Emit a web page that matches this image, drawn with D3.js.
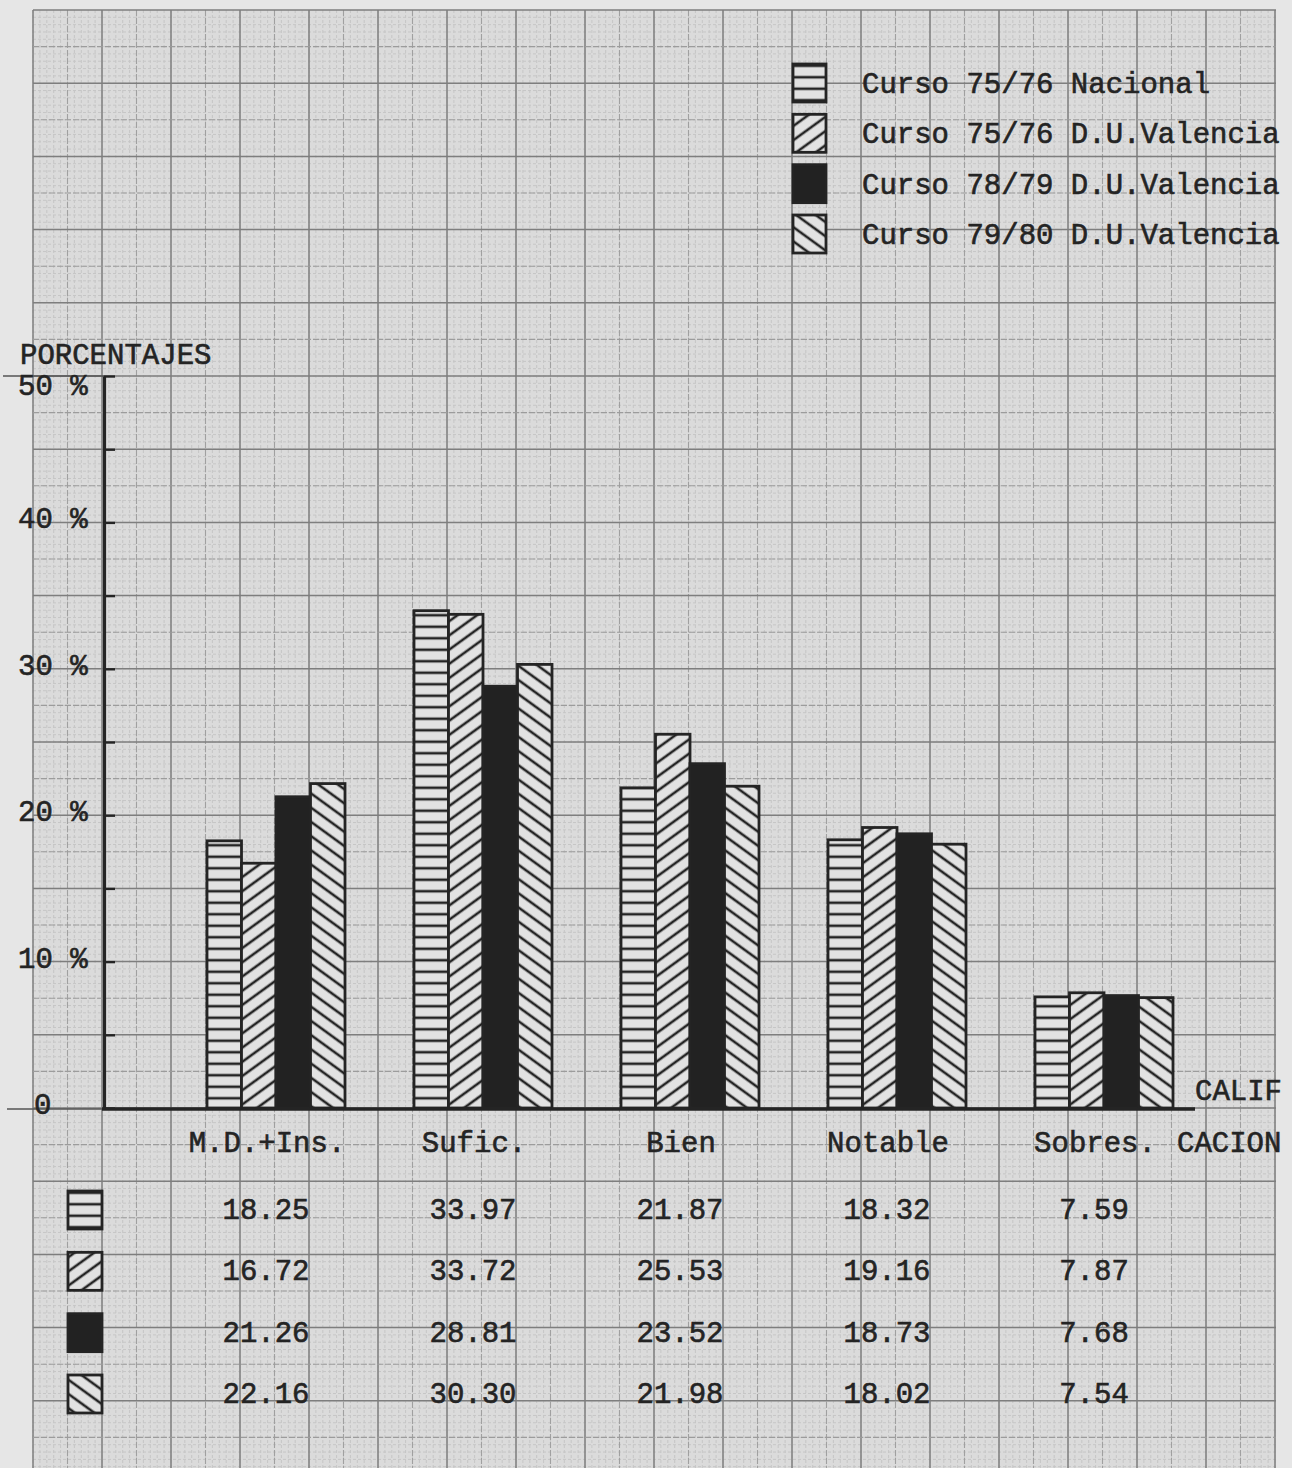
<!DOCTYPE html>
<html>
<head>
<meta charset="utf-8">
<script src="https://cdn.jsdelivr.net/npm/d3@7"></script>
<style>
body { margin: 0; background: #e6e6e6; }
svg { display: block; }
text { font-family: "Liberation Mono", "DejaVu Sans Mono", monospace; font-size: 29px; fill: #242424; stroke: #242424; stroke-width: 0.6px; }
</style>
</head>
<body>
<svg id="chart"></svg>
<script>
// calificaciones (grades) and the four school years
var categories = ["M.D.+Ins.", "Sufic.", "Bien", "Notable", "Sobres."];
var seriesNames = ["Curso 75/76 Nacional", "Curso 75/76 D.U.Valencia", "Curso 78/79 D.U.Valencia", "Curso 79/80 D.U.Valencia"];
var nacional7576 = [18.25, 33.97, 21.87, 18.32, 7.59];
var valencia7576 = [16.72, 33.72, 25.53, 19.16, 7.87];
var valencia7879 = [21.26, 28.81, 23.52, 18.73, 7.68];
var valencia7980 = [22.16, 30.30, 21.98, 18.02, 7.54];
var yTickValues = [0, 10, 20, 30, 40, 50];
var yTickLabels = ["0", "10 %", "20 %", "30 %", "40 %", "50 %"];

var seriesValues = [nacional7576, valencia7576, valencia7879, valencia7980];

var width = 1292, height = 1468;
var paper = { left: 33, right: 1276, top: 10, bottom: 1468 };
var cellW = 34.5, cellH = 36.6;
var ink = "#242424";

var svg = d3.select("#chart")
  .attr("width", width)
  .attr("height", height);

var y = d3.scaleLinear()
  .domain([0, 50])
  .range([1108, 1108 - cellH * 20]);

var x = d3.scaleBand()
  .domain(categories)
  .range([172.5, 1207.5])
  .paddingInner(1 / 3)
  .paddingOuter(1 / 6);

var xs = d3.scaleBand()
  .domain(seriesNames)
  .range([0, x.bandwidth()]);

// ---- graph paper ----
svg.append("rect")
  .attr("x", paper.left)
  .attr("y", paper.top)
  .attr("width", paper.right - paper.left)
  .attr("height", paper.bottom - paper.top)
  .attr("fill", "#dbdbdb");

var grid = svg.append("g");
var fineX = d3.range(paper.left, paper.right, cellW / 5);
var fineY = d3.range(y(0), paper.top, -cellH / 5).concat(d3.range(y(0), paper.bottom, cellH / 5));
grid.selectAll(".fv").data(fineX).enter().append("line")
  .attr("x1", d => d).attr("x2", d => d)
  .attr("y1", paper.top).attr("y2", paper.bottom)
  .attr("stroke", "#c6c6c6").attr("stroke-dasharray", "3,2");
grid.selectAll(".fh").data(fineY).enter().append("line")
  .attr("x1", paper.left).attr("x2", paper.right)
  .attr("y1", d => d).attr("y2", d => d)
  .attr("stroke", "#c6c6c6").attr("stroke-dasharray", "3,2");

var colsX = d3.range(0, 37).map(j => ({ x: paper.left + j * cellW, major: j % 2 === 0 }));
grid.selectAll(".v").data(colsX).enter().append("line")
  .attr("x1", d => d.x).attr("x2", d => d.x)
  .attr("y1", paper.top).attr("y2", paper.bottom)
  .attr("stroke", d => d.major ? "#7e7e7e" : "#a0a0a0")
  .attr("stroke-width", d => d.major ? 1.5 : 1.1)
  .attr("stroke-dasharray", d => d.major ? null : "6,2");

var rowsY = d3.range(-9, 31).map(k => ({ y: y(0) - k * cellH, major: k % 2 === 0 }))
  .filter(d => d.y >= paper.top - 1);
grid.selectAll(".h").data(rowsY).enter().append("line")
  .attr("x1", paper.left).attr("x2", paper.right)
  .attr("y1", d => d.y).attr("y2", d => d.y)
  .attr("stroke", d => d.major ? "#7e7e7e" : "#9c9c9c")
  .attr("stroke-width", d => d.major ? 1.5 : 1.1)
  .attr("stroke-dasharray", d => d.major ? null : "6,2");

// ---- hatch patterns ----
var defs = svg.append("defs");
function hatch(id, angle, gap) {
  var p = defs.append("pattern")
    .attr("id", id)
    .attr("patternUnits", "userSpaceOnUse")
    .attr("width", 10)
    .attr("height", gap)
    .attr("patternTransform", "rotate(" + angle + ")");
  p.append("rect").attr("width", 10).attr("height", gap).attr("fill", "#e2e2e2");
  p.append("line")
    .attr("x1", 0).attr("x2", 10)
    .attr("y1", gap / 2).attr("y2", gap / 2)
    .attr("stroke", ink).attr("stroke-width", 2.6);
}
hatch("hz", 0, 11.5);
hatch("fw", -36, 11.5);
hatch("bk", 36, 11.5);

var fills = d3.scaleOrdinal()
  .domain(seriesNames)
  .range(["url(#hz)", "url(#fw)", "#222222", "url(#bk)"]);

// ---- bars ----
var groups = svg.selectAll("g.cat")
  .data(categories)
  .enter().append("g")
    .attr("class", "cat")
    .attr("transform", c => "translate(" + x(c) + ",0)");

groups.selectAll("rect")
  .data((c, i) => seriesNames.map((s, j) => ({ s: s, v: seriesValues[j][i] })))
  .enter().append("rect")
    .attr("x", d => xs(d.s))
    .attr("y", d => y(d.v))
    .attr("width", xs.bandwidth())
    .attr("height", d => y(0) - y(d.v))
    .attr("fill", d => fills(d.s))
    .attr("stroke", ink)
    .attr("stroke-width", 2.8);

// ---- axes ----
svg.append("line")
  .attr("x1", 3).attr("x2", 104)
  .attr("y1", y(50)).attr("y2", y(50))
  .attr("stroke", "#555").attr("stroke-width", 1.6);
svg.append("line")
  .attr("x1", 7).attr("x2", 104)
  .attr("y1", y(0) + 1).attr("y2", y(0) + 1)
  .attr("stroke", "#555").attr("stroke-width", 1.6);

var yAxis = svg.append("g")
  .attr("transform", "translate(104,0)")
  .call(d3.axisRight(y).tickValues(d3.range(0, 51, 5)).tickSize(11).tickSizeOuter(0).tickFormat(""));
yAxis.select(".domain").attr("stroke", ink).attr("stroke-width", 3.2);
yAxis.selectAll(".tick line").attr("stroke", ink).attr("stroke-width", 2.4);

svg.append("line")
  .attr("x1", 102).attr("x2", 1195)
  .attr("y1", y(0) + 1).attr("y2", y(0) + 1)
  .attr("stroke", ink).attr("stroke-width", 3.4);

svg.selectAll(".ylab")
  .data(yTickValues)
  .enter().append("text")
    .attr("x", (d, i) => i === 0 ? 34 : 18)
    .attr("y", d => y(d) + (d === 50 ? 19 : 6))
    .text((d, i) => yTickLabels[i]);

svg.append("text").attr("x", 20).attr("y", 364).text("PORCENTAJES");
svg.append("text").attr("x", 1195).attr("y", 1100).text("CALIF");
svg.append("text").attr("x", 1177).attr("y", 1152).text("CACION");

// ---- category labels ----
svg.selectAll(".clab")
  .data(categories)
  .enter().append("text")
    .attr("x", c => x(c) + x.bandwidth() / 2 - 9)
    .attr("y", 1152)
    .attr("text-anchor", "middle")
    .text(c => c);

// ---- legend ----
var legendY = d3.scalePoint().domain(seriesNames).range([83, 234]);
var legend = svg.selectAll(".leg")
  .data(seriesNames)
  .enter().append("g")
    .attr("transform", s => "translate(793," + legendY(s) + ")");
legend.append("rect")
  .attr("x", 0).attr("y", -19)
  .attr("width", 33).attr("height", 38)
  .attr("fill", s => fills(s))
  .attr("stroke", ink).attr("stroke-width", 2.8);
legend.append("text")
  .attr("x", 69).attr("y", 10)
  .text(s => s);

// ---- value table ----
var rowY = d3.scalePoint().domain(seriesNames).range([1210, 1394]);
var rows = svg.selectAll(".row")
  .data(seriesNames)
  .enter().append("g")
    .attr("transform", s => "translate(0," + rowY(s) + ")");
rows.append("rect")
  .attr("x", 68).attr("y", -19)
  .attr("width", 34).attr("height", 38)
  .attr("fill", s => fills(s))
  .attr("stroke", ink).attr("stroke-width", 2.8);
rows.selectAll("text")
  .data((s, j) => seriesValues[j].map((v, i) => ({ c: categories[i], v: v })))
  .enter().append("text")
    .attr("x", d => x(d.c) + x.bandwidth() / 2 - 10)
    .attr("y", 9)
    .attr("text-anchor", "middle")
    .text(d => d3.format(".2f")(d.v));
</script>
</body>
</html>
